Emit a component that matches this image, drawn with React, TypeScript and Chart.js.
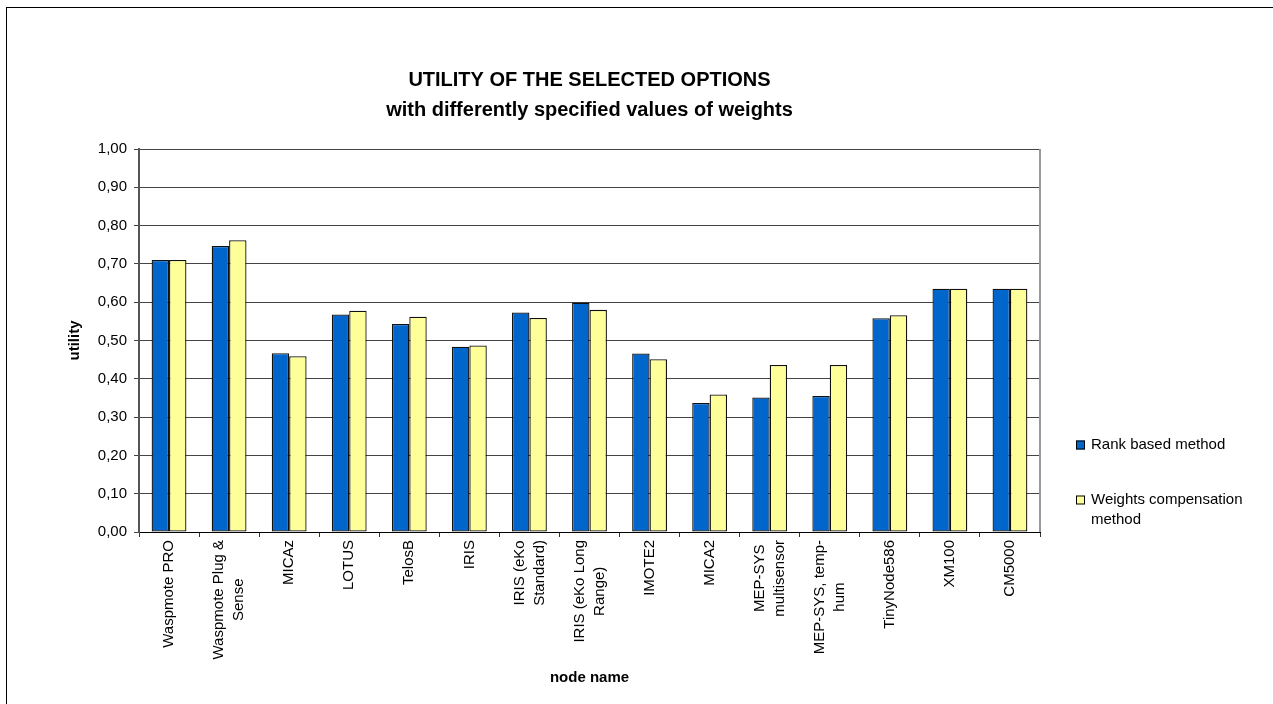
import React, { useEffect, useRef } from 'react';
import { Chart, registerables } from 'chart.js';

Chart.register(...registerables);

const categories: (string | string[])[] = [
  'Waspmote PRO',
  ['Waspmote Plug &', 'Sense'],
  'MICAz',
  'LOTUS',
  'TelosB',
  'IRIS',
  ['IRIS (eKo', 'Standard)'],
  ['IRIS (eKo Long', 'Range)'],
  'IMOTE2',
  'MICA2',
  ['MEP-SYS', 'multisensor'],
  ['MEP-SYS, temp-', 'hum'],
  'TinyNode586',
  'XM100',
  'CM5000',
];

const rankBased = [0.71, 0.747, 0.467, 0.568, 0.543, 0.484, 0.573, 0.599, 0.466, 0.337, 0.351, 0.355, 0.558, 0.635, 0.635];
const weightsCompensation = [0.71, 0.762, 0.459, 0.578, 0.562, 0.487, 0.559, 0.58, 0.451, 0.359, 0.436, 0.436, 0.566, 0.635, 0.635];

const seriesNames = ['Rank based method', 'Weights compensation method'];
const seriesColors = ['#0066CC', '#FFFF99'];
const titleLines = ['UTILITY OF THE SELECTED OPTIONS', 'with differently specified values of weights'];
const xTitle = 'node name';
const yTitle = 'utility';
const yMin = 0;
const yMax = 1;
const yStep = 0.1;

const FAMILY = "'Liberation Sans', Arial, sans-serif";

const decoPlugin = {
  id: 'deco',
  afterDraw(chart: any) {
    const { ctx, chartArea, scales } = chart;
    ctx.save();
    // outer frame
    ctx.strokeStyle = '#000';
    ctx.lineWidth = 1;
    ctx.strokeRect(6.5, 7.5, 1400, 800);

    // plot area right border
    ctx.strokeStyle = '#999';
    ctx.lineWidth = 2;
    ctx.beginPath();
    ctx.moveTo(chartArea.right, chartArea.top);
    ctx.lineTo(chartArea.right, chartArea.bottom);
    ctx.stroke();

    // title
    const cx = (chartArea.left + chartArea.right) / 2;
    ctx.fillStyle = '#000';
    ctx.font = `bold 20px ${FAMILY}`;
    ctx.textAlign = 'center';
    ctx.textBaseline = 'alphabetic';
    ctx.fillText(titleLines[0], cx, 86);
    ctx.fillText(titleLines[1], cx, 116);

    // x tick labels (rotated, centered multi-line)
    const xs = scales.x;
    ctx.font = `15px ${FAMILY}`;
    (chart.data.labels as (string | string[])[]).forEach((lab, i) => {
      const lines = Array.isArray(lab) ? lab : [lab];
      const px = xs.getPixelForValue(i);
      const maxW = Math.max(...lines.map((l) => ctx.measureText(l).width));
      ctx.save();
      ctx.translate(px, chartArea.bottom + 8 + maxW / 2);
      ctx.rotate(-Math.PI / 2);
      ctx.textAlign = 'center';
      ctx.textBaseline = 'middle';
      lines.forEach((l, j) => ctx.fillText(l, 0, (j - (lines.length - 1) / 2) * 20));
      ctx.restore();
    });

    // legend
    const legendY = [445, 500];
    const boxX = 1076;
    const textX = 1091;
    const maxTextW = 165;
    ctx.font = `15px ${FAMILY}`;
    ctx.textAlign = 'left';
    ctx.textBaseline = 'middle';
    chart.data.datasets.forEach((ds: any, i: number) => {
      const y = legendY[i];
      ctx.fillStyle = ds.backgroundColor;
      ctx.fillRect(boxX, y - 4.5, 9, 9);
      ctx.strokeStyle = '#000';
      ctx.lineWidth = 1;
      ctx.strokeRect(boxX + 0.5, y - 4, 8, 8);
      const words = String(ds.label).split(' ');
      const lines: string[] = [];
      let cur = '';
      words.forEach((w) => {
        const t = cur ? cur + ' ' + w : w;
        if (ctx.measureText(t).width > maxTextW && cur) {
          lines.push(cur);
          cur = w;
        } else cur = t;
      });
      if (cur) lines.push(cur);
      ctx.fillStyle = '#000';
      lines.forEach((l, j) => ctx.fillText(l, textX, y + j * 19.5));
    });
    ctx.restore();
  },
};

export default function App() {
  const ref = useRef<HTMLCanvasElement>(null);
  useEffect(() => {
    const chart = new Chart(ref.current as HTMLCanvasElement, {
      type: 'bar',
      data: {
        labels: categories as any,
        datasets: [
          {
            label: seriesNames[0],
            data: rankBased,
            backgroundColor: seriesColors[0],
            borderColor: '#111',
            borderWidth: 1.3,
            borderSkipped: false,
            barPercentage: 1,
            categoryPercentage: 0.58,
          },
          {
            label: seriesNames[1],
            data: weightsCompensation,
            backgroundColor: seriesColors[1],
            borderColor: '#111',
            borderWidth: 1.3,
            borderSkipped: false,
            barPercentage: 1,
            categoryPercentage: 0.58,
          },
        ],
      },
      options: {
        responsive: false,
        animation: false,
        layout: { padding: { top: 149, right: 233, bottom: 0, left: 0 } },
        plugins: {
          legend: { display: false },
          title: { display: false },
          tooltip: { enabled: false },
        },
        scales: {
          x: {
            grid: { display: true, drawOnChartArea: false, drawTicks: true, tickLength: 5, color: '#333', offset: true },
            border: { display: true, color: '#000', width: 1 },
            ticks: { display: false },
            title: {
              display: true,
              text: xTitle,
              color: '#000',
              font: { family: FAMILY, size: 15, weight: 'bold' },
              padding: { top: 0, bottom: 17 },
            },
            afterFit: (s: any) => {
              s.height = 172;
            },
          },
          y: {
            min: yMin,
            max: yMax,
            ticks: {
              stepSize: yStep,
              callback: (v: any) => Number(v).toFixed(2).replace('.', ','),
              color: '#000',
              font: { family: FAMILY, size: 15 },
              padding: 7,
            },
            grid: { color: '#444', tickLength: 5 },
            border: { color: '#555', width: 2 },
            title: {
              display: true,
              text: yTitle,
              color: '#000',
              font: { family: FAMILY, size: 15, weight: 'bold' },
              padding: { top: 66, bottom: 0 },
            },
            afterFit: (s: any) => {
              s.width = 139;
            },
          },
        },
      } as any,
      plugins: [decoPlugin],
    });
    return () => chart.destroy();
  }, []);
  return (
    <div style={{ position: 'fixed', left: 0, top: 0, width: 1273, height: 704, background: '#fff' }}>
      <canvas ref={ref} width={1273} height={704} style={{ display: 'block', width: 1273, height: 704 }} />
    </div>
  );
}
